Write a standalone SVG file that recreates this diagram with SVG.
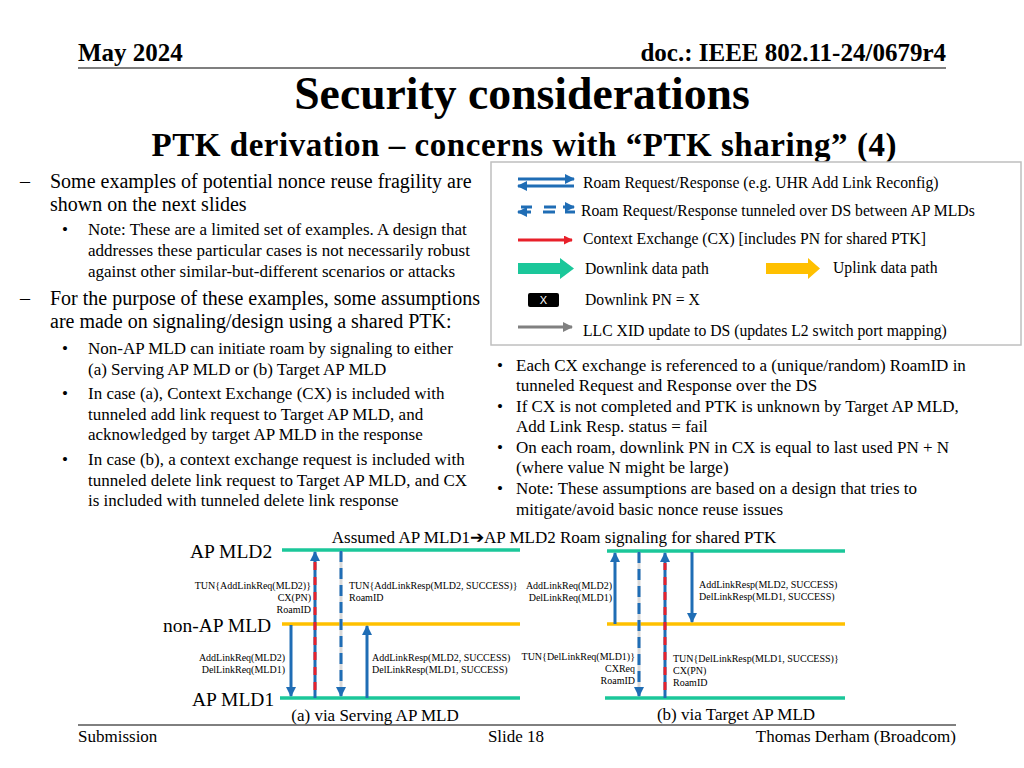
<svg xmlns="http://www.w3.org/2000/svg" width="1024" height="768" viewBox="0 0 1024 768">
<defs>
<style>
.t{font-family:"Liberation Serif","Times New Roman",serif;fill:#000}
.b{font-weight:bold}
.body{font-size:20px}
.sub{font-size:17px}
.lg{font-size:15.7px}
.sm{font-size:10px}
.lbl{font-size:19.5px}
.cap{font-size:17px}
.blue{stroke:#1F6DB5;stroke-width:3;fill:none}
.green{stroke:#1BC79A;stroke-width:3.5}
.yellow{stroke:#FFC000;stroke-width:3.5}
</style>
<marker id="ah" viewBox="0 0 10 10" refX="9" refY="5" markerWidth="10" markerHeight="10" markerUnits="userSpaceOnUse" orient="auto">
<path d="M0,0 L10,5 L0,10 z" fill="#1F6DB5"/>
</marker>
<marker id="ahr" viewBox="0 0 10 10" refX="9" refY="5" markerWidth="9" markerHeight="9" markerUnits="userSpaceOnUse" orient="auto">
<path d="M0,0 L10,5 L0,10 z" fill="#E8202A"/>
</marker>
<marker id="ahg" viewBox="0 0 10 10" refX="9" refY="5" markerWidth="10" markerHeight="10" markerUnits="userSpaceOnUse" orient="auto">
<path d="M0,0 L10,5 L0,10 z" fill="#808080"/>
</marker>
</defs>
<rect width="1024" height="768" fill="#fff"/>

<!-- Header -->
<g id="header">
<text class="t b" x="78" y="61" font-size="25">May 2024</text>
<text class="t b" x="946" y="61" font-size="25" text-anchor="end">doc.: IEEE 802.11-24/0679r4</text>
<line x1="78" y1="68" x2="946" y2="68" stroke="#000" stroke-width="1.2"/>
<text class="t b" x="522" y="109" font-size="45.7" text-anchor="middle">Security considerations</text>
<text class="t b" x="524" y="156" font-size="33" text-anchor="middle" textLength="745" lengthAdjust="spacing">PTK derivation – concerns with “PTK sharing” (4)</text>
</g>

<!-- Left text -->
<g id="left-text">
<text class="t body" x="20" y="188">–</text>
<text class="t body" x="50" y="188">Some examples of potential nonce reuse fragility are</text>
<text class="t body" x="50" y="211">shown on the next slides</text>
<text class="t sub" x="62" y="235">•</text>
<text class="t sub" x="88" y="235">Note: These are a limited set of examples. A design that</text>
<text class="t sub" x="88" y="256">addresses these particular cases is not necessarily robust</text>
<text class="t sub" x="88" y="277">against other similar-but-different scenarios or attacks</text>
<text class="t body" x="20" y="305">–</text>
<text class="t body" x="50" y="305">For the purpose of these examples, some assumptions</text>
<text class="t body" x="50" y="328">are made on signaling/design using a shared PTK:</text>
<text class="t sub" x="62" y="354">•</text>
<text class="t sub" x="88" y="354">Non-AP MLD can initiate roam by signaling to either</text>
<text class="t sub" x="88" y="375">(a) Serving AP MLD or (b) Target AP MLD</text>
<text class="t sub" x="62" y="399">•</text>
<text class="t sub" x="88" y="399">In case (a), Context Exchange (CX) is included with</text>
<text class="t sub" x="88" y="420">tunneled add link request to Target AP MLD, and</text>
<text class="t sub" x="88" y="440">acknowledged by target AP MLD in the response</text>
<text class="t sub" x="62" y="465">•</text>
<text class="t sub" x="88" y="465">In case (b), a context exchange request is included with</text>
<text class="t sub" x="88" y="486">tunneled delete link request to Target AP MLD, and CX</text>
<text class="t sub" x="88" y="506">is included with tunneled delete link response</text>
</g>

<!-- Legend -->
<g id="legend">
<rect x="491" y="162" width="530" height="183" fill="#fff" stroke="#bfbfbf" stroke-width="1.5"/>
<line x1="518" y1="179" x2="574" y2="179" stroke="#1F6DB5" stroke-width="3" marker-end="url(#ah)"/>
<line x1="574" y1="186" x2="518" y2="186" stroke="#1F6DB5" stroke-width="3" marker-end="url(#ah)"/>
<text class="t lg" x="583" y="188">Roam Request/Response (e.g. UHR Add Link Reconfig)</text>
<g stroke="#1F6DB5" stroke-width="3">
<line x1="521" y1="207" x2="532" y2="207"/>
<line x1="544" y1="207" x2="556" y2="207"/>
<line x1="563" y1="207" x2="574" y2="207" marker-end="url(#ah)"/>
<line x1="531" y1="212" x2="518" y2="212" marker-end="url(#ah)"/>
<line x1="543" y1="212" x2="555" y2="212"/>
<line x1="565" y1="212" x2="575" y2="212"/>
</g>
<text class="t lg" x="581" y="216">Roam Request/Response tunneled over DS between AP MLDs</text>
<line x1="518" y1="240" x2="572" y2="240" stroke="#E8202A" stroke-width="3" marker-end="url(#ahr)"/>
<text class="t lg" x="583" y="244">Context Exchange (CX) [includes PN for shared PTK]</text>
<path d="M518,263 L560,263 L560,258 L574,268.5 L560,279 L560,274 L518,274 z" fill="#1BC79A"/>
<text class="t lg" x="585" y="274">Downlink data path</text>
<path d="M766,263 L808,263 L808,258 L820,268.5 L808,279 L808,274 L766,274 z" fill="#FFC000"/>
<text class="t lg" x="833" y="273">Uplink data path</text>
<rect x="528" y="293" width="31" height="14" rx="2" fill="#000"/>
<text x="543.5" y="304" font-family="Liberation Sans,Arial,sans-serif" font-size="11" fill="#fff" text-anchor="middle">X</text>
<text class="t lg" x="585" y="305">Downlink PN = X</text>
<line x1="518" y1="327" x2="572" y2="327" stroke="#808080" stroke-width="3" marker-end="url(#ahg)"/>
<text class="t lg" x="583" y="336">LLC XID update to DS (updates L2 switch port mapping)</text>
</g>

<!-- Right text -->
<g id="right-text">
<text class="t sub" x="497" y="371">•</text>
<text class="t sub" x="516" y="371">Each CX exchange is referenced to a (unique/random) RoamID in</text>
<text class="t sub" x="516" y="391">tunneled Request and Response over the DS</text>
<text class="t sub" x="497" y="412">•</text>
<text class="t sub" x="516" y="412">If CX is not completed and PTK is unknown by Target AP MLD,</text>
<text class="t sub" x="516" y="432">Add Link Resp. status = fail</text>
<text class="t sub" x="497" y="453">•</text>
<text class="t sub" x="516" y="453">On each roam, downlink PN in CX is equal to last used PN + N</text>
<text class="t sub" x="516" y="473">(where value N might be large)</text>
<text class="t sub" x="497" y="494">•</text>
<text class="t sub" x="516" y="494">Note: These assumptions are based on a design that tries to</text>
<text class="t sub" x="516" y="515">mitigate/avoid basic nonce reuse issues</text>
</g>

<!-- Diagram title and labels -->
<g id="diagram-labels">
<text class="t cap" x="554" y="543" text-anchor="middle">Assumed AP MLD1➔AP MLD2 Roam signaling for shared PTK</text>
<text class="t lbl" x="190" y="558">AP MLD2</text>
<text class="t lbl" x="163" y="632">non-AP MLD</text>
<text class="t lbl" x="192" y="706">AP MLD1</text>
<text class="t cap" x="375" y="721" text-anchor="middle">(a) via Serving AP MLD</text>
<text class="t cap" x="736" y="720" text-anchor="middle">(b) via Target AP MLD</text>
</g>

<!-- Entity lines -->
<g id="lines-a">
<line class="green" x1="282" y1="550" x2="520" y2="550"/>
<line class="yellow" x1="282" y1="624" x2="520" y2="624"/>
<line class="green" x1="280" y1="698" x2="520" y2="698"/>
</g>
<g id="lines-b">
<line class="green" x1="607" y1="551" x2="845" y2="551"/>
<line class="yellow" x1="607" y1="624" x2="845" y2="624"/>
<line class="green" x1="605" y1="698" x2="845" y2="698"/>
</g>

<!-- Connectors -->
<g id="connectors">
<!-- (a) -->
<line x1="291" y1="625" x2="291" y2="696" class="blue" marker-end="url(#ah)"/>
<line x1="315" y1="698" x2="315" y2="552" class="blue" marker-end="url(#ah)"/>
<line x1="315" y1="690" x2="315" y2="562" stroke="#E8202A" stroke-width="3" stroke-dasharray="8 7"/>
<line x1="341" y1="551" x2="341" y2="696" stroke="#d9d9d9" stroke-width="3"/>
<line x1="341" y1="551" x2="341" y2="696" class="blue" stroke-dasharray="11 6" marker-end="url(#ah)"/>
<line x1="367" y1="698" x2="367" y2="626" class="blue" marker-end="url(#ah)"/>
<!-- (b) -->
<line x1="615" y1="624" x2="615" y2="553" class="blue" marker-end="url(#ah)"/>
<line x1="639" y1="552" x2="639" y2="696" stroke="#d9d9d9" stroke-width="3"/>
<line x1="639" y1="552" x2="639" y2="696" class="blue" stroke-dasharray="11 6" marker-end="url(#ah)"/>
<line x1="665" y1="698" x2="665" y2="553" class="blue" marker-end="url(#ah)"/>
<line x1="665" y1="690" x2="665" y2="563" stroke="#E8202A" stroke-width="3" stroke-dasharray="8 7"/>
<line x1="692" y1="552" x2="692" y2="622" class="blue" marker-end="url(#ah)"/>
</g>

<!-- Message labels -->
<g id="message-labels">
<text class="t sm" x="311" y="589" text-anchor="end">TUN{AddLinkReq(MLD2)}</text>
<text class="t sm" x="311" y="601" text-anchor="end">CX(PN)</text>
<text class="t sm" x="311" y="613" text-anchor="end">RoamID</text>
<text class="t sm" x="349" y="589">TUN{AddLinkResp(MLD2, SUCCESS)}</text>
<text class="t sm" x="349" y="601">RoamID</text>
<text class="t sm" x="285" y="661" text-anchor="end">AddLinkReq(MLD2)</text>
<text class="t sm" x="285" y="673" text-anchor="end">DelLinkReq(MLD1)</text>
<text class="t sm" x="372" y="661">AddLinkResp(MLD2, SUCCESS)</text>
<text class="t sm" x="372" y="673">DelLinkResp(MLD1, SUCCESS)</text>
<text class="t sm" x="612" y="589" text-anchor="end">AddLinkReq(MLD2)</text>
<text class="t sm" x="612" y="601" text-anchor="end">DelLinkReq(MLD1)</text>
<text class="t sm" x="699" y="588">AddLinkResp(MLD2, SUCCESS)</text>
<text class="t sm" x="699" y="600">DelLinkResp(MLD1, SUCCESS)</text>
<text class="t sm" x="635" y="660" text-anchor="end">TUN{DelLinkReq(MLD1)}</text>
<text class="t sm" x="635" y="672" text-anchor="end">CXReq</text>
<text class="t sm" x="635" y="684" text-anchor="end">RoamID</text>
<text class="t sm" x="673" y="662">TUN{DelLinkResp(MLD1, SUCCESS)}</text>
<text class="t sm" x="673" y="674">CX(PN)</text>
<text class="t sm" x="673" y="686">RoamID</text>
</g>

<!-- Footer -->
<g id="footer">
<line x1="78" y1="725" x2="956" y2="725" stroke="#000" stroke-width="1"/>
<text class="t" x="78" y="742" font-size="17">Submission</text>
<text class="t" x="516" y="742" font-size="17" text-anchor="middle">Slide 18</text>
<text class="t" x="956" y="742" font-size="17" text-anchor="end">Thomas Derham (Broadcom)</text>
</g>
</svg>
